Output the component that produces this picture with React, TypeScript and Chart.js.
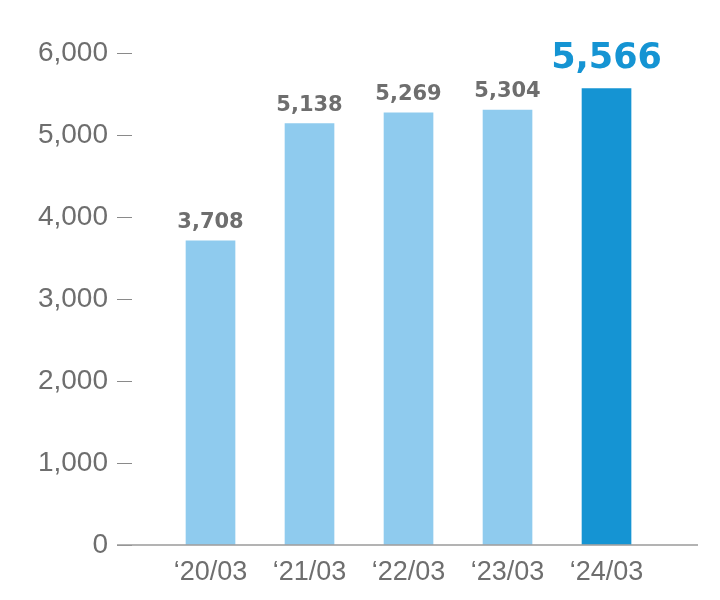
import React, { useEffect, useRef } from 'react';
import { Chart, registerables } from 'chart.js';

Chart.register(...registerables);

const categories = ['‘20/03', '‘21/03', '‘22/03', '‘23/03', '‘24/03'];
const values = [3708, 5138, 5269, 5304, 5566];
const yMin = 0;
const yMax = 6000;
const yStep = 1000;
const barColors = ['#8fcbee', '#8fcbee', '#8fcbee', '#8fcbee', '#1594d3'];

const textGray = '#6e6e6e';
const accent = '#1594d3';

const overlay = {
  id: 'overlay',
  afterDatasetsDraw(chart: any) {
    const ctx = chart.ctx;
    const yScale = chart.scales.y;
    const area = chart.chartArea;
    const y0 = yScale.getPixelForValue(0);
    ctx.save();
    ctx.strokeStyle = '#9a9a9a';
    ctx.lineWidth = 1.5;
    ctx.beginPath();
    ctx.moveTo(area.left - 15, y0);
    ctx.lineTo(area.right, y0);
    ctx.stroke();
    const meta = chart.getDatasetMeta(0);
    meta.data.forEach((bar: any, i: number) => {
      const last = i === values.length - 1;
      ctx.font = last ? 'bold 35px "DejaVu Sans"' : 'bold 21px "DejaVu Sans"';
      ctx.fillStyle = last ? accent : textGray;
      ctx.textAlign = 'center';
      ctx.textBaseline = 'alphabetic';
      ctx.fillText(values[i].toLocaleString('en-US'), bar.x, bar.y - (last ? 21 : 13));
    });
    ctx.restore();
  },
};

export default function App() {
  const ref = useRef<HTMLCanvasElement | null>(null);
  useEffect(() => {
    if (!ref.current) return;
    const chart = new Chart(ref.current, {
      type: 'bar',
      data: {
        datasets: [
          {
            data: values.map((v, i) => ({ x: i, y: v })),
            backgroundColor: barColors,
            barThickness: 49,
            borderWidth: 0,
          },
        ],
      },
      options: {
        animation: false,
        responsive: true,
        maintainAspectRatio: false,
        layout: { padding: { top: 53, right: 22, left: 0, bottom: 0 } },
        plugins: { legend: { display: false }, tooltip: { enabled: false } },
        scales: {
          x: {
            type: 'linear',
            offset: false,
            min: -0.793,
            max: 4.924,
            grid: { display: false },
            border: { display: false },
            afterBuildTicks: (axis: any) => {
              axis.ticks = categories.map((_, i) => ({ value: i }));
            },
            afterFit: (scale: any) => {
              scale.height = 55;
            },
            ticks: {
              autoSkip: false,
              maxRotation: 0,
              padding: 3,
              color: textGray,
              font: { family: '"Liberation Sans", Arial, sans-serif', size: 27 },
              callback: (v: any) => categories[v] ?? '',
            },
          },
          y: {
            min: yMin,
            max: yMax,
            grid: {
              drawOnChartArea: false,
              drawTicks: true,
              tickLength: 15,
              color: '#8a8a8a',
              lineWidth: 1,
            },
            border: { display: false },
            afterFit: (scale: any) => {
              scale.width = 132;
            },
            ticks: {
              stepSize: yStep,
              padding: 9,
              color: textGray,
              font: { family: '"Liberation Sans", Arial, sans-serif', size: 28 },
              callback: (v: any) => Number(v).toLocaleString('en-US'),
            },
          },
        },
      },
      plugins: [overlay],
    });
    return () => chart.destroy();
  }, []);
  return (
    <div style={{ position: 'absolute', left: 0, top: 0, width: 720, height: 600 }}>
      <canvas ref={ref} />
    </div>
  );
}
